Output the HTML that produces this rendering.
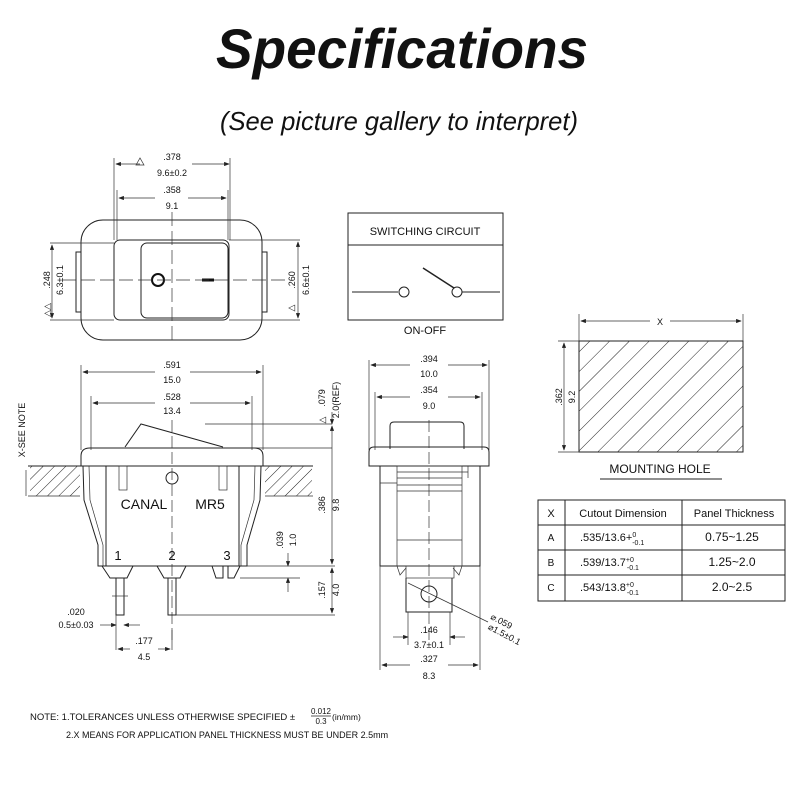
<!DOCTYPE html>
<html><head><meta charset="utf-8"><style>
html,body{margin:0;padding:0;background:#fff;}
svg{display:block;}
text{font-family:"Liberation Sans",sans-serif;fill:#111;}
.d{font-size:9px;}
.s{stroke:#222;stroke-width:1;fill:none;}
.t{stroke:#333;stroke-width:0.7;fill:none;}
</style></head><body>
<svg width="800" height="800" viewBox="0 0 800 800">
<defs>
<marker id="a" markerWidth="8" markerHeight="6" refX="7" refY="3" orient="auto-start-reverse"><path d="M0,0 L8,3 L0,6 z" fill="#222"/></marker>
<pattern id="h" width="14" height="14" patternUnits="userSpaceOnUse" patternTransform="rotate(45)"><line x1="0" y1="0" x2="0" y2="14" stroke="#222" stroke-width="1"/></pattern>
<pattern id="h2" width="8" height="8" patternUnits="userSpaceOnUse" patternTransform="rotate(45)"><line x1="0" y1="0" x2="0" y2="8" stroke="#222" stroke-width="1"/></pattern>
</defs>
<text x="402" y="68" text-anchor="middle" font-size="56" font-weight="bold" font-style="italic" textLength="372" lengthAdjust="spacingAndGlyphs">Specifications</text>
<text x="399" y="130" text-anchor="middle" font-size="26" font-style="italic" textLength="358" lengthAdjust="spacingAndGlyphs">(See picture gallery to interpret)</text>

<!-- Top view -->
<g>
<rect x="81" y="220" width="181" height="120" rx="22" class="s"/>
<rect x="114" y="240" width="115" height="80" rx="6" class="s"/>
<rect x="141" y="243" width="87" height="75" rx="6" class="s"/>
<rect x="76" y="252" width="5" height="60" class="s"/>
<rect x="262" y="252" width="5" height="60" class="s"/>
<circle cx="158" cy="280" r="6" stroke="#111" stroke-width="2" fill="none"/>
<line x1="202" y1="280" x2="214" y2="280" stroke="#111" stroke-width="3"/>
<line x1="172" y1="212" x2="172" y2="345" class="t" stroke-dasharray="14 5"/>
<line x1="62" y1="280" x2="285" y2="280" class="t" stroke-dasharray="14 5"/>
<line x1="114" y1="158" x2="114" y2="240" class="t"/><line x1="230" y1="158" x2="230" y2="240" class="t"/>
<line x1="117" y1="190" x2="117" y2="240" class="t"/><line x1="228" y1="190" x2="228" y2="240" class="t"/>
<line x1="116" y1="164" x2="140" y2="164" class="t" marker-start="url(#a)"/><line x1="192" y1="164" x2="229" y2="164" class="t" marker-end="url(#a)"/>
<line x1="119" y1="198" x2="155" y2="198" class="t" marker-start="url(#a)"/><line x1="188" y1="198" x2="226" y2="198" class="t" marker-end="url(#a)"/>
<path d="M136,165 L140,158 L144,165 Z" class="t"/>
<text x="172" y="160" class="d" text-anchor="middle">.378</text>
<text x="172" y="176" class="d" text-anchor="middle">9.6±0.2</text>
<text x="172" y="193" class="d" text-anchor="middle">.358</text>
<text x="172" y="209" class="d" text-anchor="middle">9.1</text>
<line x1="50" y1="243" x2="114" y2="243" class="t"/><line x1="50" y1="320" x2="114" y2="320" class="t"/>
<line x1="52" y1="245" x2="52" y2="318" class="t" marker-start="url(#a)" marker-end="url(#a)"/>
<text transform="translate(50,280) rotate(-90)" class="d" text-anchor="middle">.248</text>
<text transform="translate(63,280) rotate(-90)" class="d" text-anchor="middle">6.3±0.1</text>
<text transform="translate(50,310) rotate(-90)" class="d" text-anchor="middle">△△</text>
<line x1="229" y1="240" x2="300" y2="240" class="t"/><line x1="229" y1="320" x2="300" y2="320" class="t"/>
<line x1="298" y1="242" x2="298" y2="318" class="t" marker-start="url(#a)" marker-end="url(#a)"/>
<text transform="translate(295,280) rotate(-90)" class="d" text-anchor="middle">.260</text>
<text transform="translate(309,280) rotate(-90)" class="d" text-anchor="middle">6.6±0.1</text>
<text transform="translate(294,308) rotate(-90)" class="d" text-anchor="middle">△</text>
</g>

<!-- Switching circuit -->
<rect x="348" y="213" width="155" height="107" class="s"/>
<line x1="348" y1="245" x2="503" y2="245" class="s"/>
<text x="425" y="235" text-anchor="middle" font-size="11">SWITCHING  CIRCUIT</text>
<line x1="352" y1="292" x2="398" y2="292" class="s"/>
<circle cx="404" cy="292" r="5" class="s"/>
<circle cx="457" cy="292" r="5" class="s"/>
<line x1="462" y1="292" x2="500" y2="292" class="s"/>
<line x1="423" y1="268" x2="454" y2="288" stroke="#222" stroke-width="1.5"/>
<text x="425" y="334" text-anchor="middle" font-size="11">ON-OFF</text>

<!-- Side view -->
<g>
<line x1="81" y1="365" x2="81" y2="450" class="t"/><line x1="263" y1="365" x2="263" y2="450" class="t"/>
<line x1="91" y1="396" x2="91" y2="450" class="t"/><line x1="252" y1="396" x2="252" y2="450" class="t"/>
<line x1="83" y1="372" x2="155" y2="372" class="t" marker-start="url(#a)"/><line x1="190" y1="372" x2="261" y2="372" class="t" marker-end="url(#a)"/>
<line x1="93" y1="403" x2="155" y2="403" class="t" marker-start="url(#a)"/><line x1="190" y1="403" x2="250" y2="403" class="t" marker-end="url(#a)"/>
<text x="172" y="368" class="d" text-anchor="middle">.591</text>
<text x="172" y="383" class="d" text-anchor="middle">15.0</text>
<text x="172" y="400" class="d" text-anchor="middle">.528</text>
<text x="172" y="414" class="d" text-anchor="middle">13.4</text>
<path d="M125,447 L141,424 L223,447" class="s"/>
<line x1="205" y1="424" x2="332" y2="424" class="t"/>
<line x1="223" y1="448" x2="332" y2="448" class="t"/>
<path d="M81,466 L81,456 Q81,448 90,448 L254,448 Q263,448 263,456 L263,466 Z" class="s"/>
<rect x="30" y="466" width="50" height="30" fill="url(#h2)"/>
<rect x="265" y="466" width="47" height="30" fill="url(#h2)"/>
<line x1="28" y1="466" x2="313" y2="466" class="s"/>
<line x1="28" y1="496" x2="80" y2="496" class="t"/><line x1="265" y1="496" x2="313" y2="496" class="t"/>
<line x1="26" y1="470" x2="26" y2="496" class="t"/>
<text transform="translate(25,430) rotate(-90)" class="d" text-anchor="middle">X-SEE NOTE</text>
<line x1="106" y1="466" x2="106" y2="566" class="s"/>
<line x1="239" y1="466" x2="239" y2="566" class="s"/>
<path d="M83,466 L84,500 L98,545 L98,566 L106,566" class="s"/>
<path d="M89,466 L90,500 L103,545 L103,566" class="t"/>
<path d="M261,466 L260,500 L247,545 L247,566 L239,566" class="s"/>
<path d="M255,466 L254,500 L241,545 L241,566" class="t"/>
<line x1="98" y1="566" x2="247" y2="566" class="s"/>
<rect x="119" y="466" width="8" height="24" class="t"/><rect x="219" y="466" width="8" height="24" class="t"/>
<circle cx="172" cy="478" r="6" class="s"/>
<line x1="172" y1="420" x2="172" y2="640" class="t" stroke-dasharray="12 4"/>
<text x="144" y="509" text-anchor="middle" font-size="14">CANAL</text>
<text x="210" y="509" text-anchor="middle" font-size="14">MR5</text>
<text x="118" y="560" text-anchor="middle" font-size="13">1</text>
<text x="172" y="560" text-anchor="middle" font-size="13">2</text>
<text x="227" y="560" text-anchor="middle" font-size="13">3</text>
<path d="M102,566 L110,578 L127,578 L133,566" class="s"/>
<path d="M157,566 L164,578 L180,578 L186,566" class="s"/>
<path d="M212,566 L216,578 L223,578 L223,566 M228,566 L228,578 L234,578 L240,566" class="s"/>
<rect x="116" y="578" width="8" height="37" class="s"/>
<rect x="168" y="578" width="8" height="37" class="s"/>
<line x1="112" y1="596" x2="128" y2="596" class="t"/>
<line x1="247" y1="566" x2="335" y2="566" class="t"/>
<line x1="240" y1="578" x2="300" y2="578" class="t"/>
<line x1="176" y1="615" x2="335" y2="615" class="t"/>
<line x1="288" y1="553" x2="288" y2="566" class="t" marker-end="url(#a)"/>
<line x1="288" y1="592" x2="288" y2="578" class="t" marker-end="url(#a)"/>
<text transform="translate(283,540) rotate(-90)" class="d" text-anchor="middle">.039</text>
<text transform="translate(296,540) rotate(-90)" class="d" text-anchor="middle">1.0</text>
<line x1="332" y1="426" x2="332" y2="564" class="t" marker-start="url(#a)" marker-end="url(#a)"/>
<line x1="332" y1="568" x2="332" y2="613" class="t" marker-start="url(#a)" marker-end="url(#a)"/>
<line x1="332" y1="412" x2="332" y2="424" class="t" marker-end="url(#a)"/>
<text transform="translate(325,505) rotate(-90)" class="d" text-anchor="middle">.386</text>
<text transform="translate(339,505) rotate(-90)" class="d" text-anchor="middle">9.8</text>
<text transform="translate(325,590) rotate(-90)" class="d" text-anchor="middle">.157</text>
<text transform="translate(339,590) rotate(-90)" class="d" text-anchor="middle">4.0</text>
<text transform="translate(325,398) rotate(-90)" class="d" text-anchor="middle">.079</text>
<text transform="translate(339,400) rotate(-90)" class="d" text-anchor="middle">2.0(REF)</text>
<text transform="translate(325,420) rotate(-90)" class="d" text-anchor="middle">△</text>
<line x1="116" y1="615" x2="116" y2="650" class="t"/><line x1="172" y1="630" x2="172" y2="650" class="t"/>
<line x1="100" y1="625" x2="116" y2="625" class="t" marker-end="url(#a)"/>
<line x1="140" y1="625" x2="124" y2="625" class="t" marker-end="url(#a)"/>
<text x="76" y="615" class="d" text-anchor="middle">.020</text>
<text x="76" y="628" class="d" text-anchor="middle">0.5±0.03</text>
<line x1="118" y1="649" x2="130" y2="649" class="t" marker-start="url(#a)"/>
<line x1="158" y1="649" x2="170" y2="649" class="t" marker-end="url(#a)"/>
<text x="144" y="644" class="d" text-anchor="middle">.177</text>
<text x="144" y="660" class="d" text-anchor="middle">4.5</text>
</g>

<!-- Front view -->
<g>
<line x1="369" y1="360" x2="369" y2="450" class="t"/><line x1="489" y1="360" x2="489" y2="450" class="t"/>
<line x1="375" y1="392" x2="375" y2="450" class="t"/><line x1="482" y1="392" x2="482" y2="450" class="t"/>
<line x1="371" y1="365" x2="410" y2="365" class="t" marker-start="url(#a)"/><line x1="448" y1="365" x2="487" y2="365" class="t" marker-end="url(#a)"/>
<line x1="377" y1="397" x2="410" y2="397" class="t" marker-start="url(#a)"/><line x1="448" y1="397" x2="480" y2="397" class="t" marker-end="url(#a)"/>
<text x="429" y="362" class="d" text-anchor="middle">.394</text>
<text x="429" y="377" class="d" text-anchor="middle">10.0</text>
<text x="429" y="393" class="d" text-anchor="middle">.354</text>
<text x="429" y="409" class="d" text-anchor="middle">9.0</text>
<path d="M390,449 L390,426 Q390,422 394,422 L460,422 Q464,422 464,426 L464,449" class="s"/>
<path d="M369,466 L369,452 Q369,447 374,447 L484,447 Q489,447 489,452 L489,466 Z" class="s"/>
<rect x="380" y="466" width="100" height="100" class="s"/>
<rect x="397" y="466" width="65" height="100" class="t"/>
<line x1="397" y1="472" x2="468" y2="472" class="t"/><line x1="468" y1="466" x2="468" y2="478" class="t"/>
<line x1="397" y1="478" x2="462" y2="478" class="t"/><line x1="397" y1="485" x2="462" y2="485" class="t"/>
<line x1="397" y1="491" x2="462" y2="491" class="t"/><line x1="397" y1="540" x2="462" y2="540" class="t"/>
<line x1="380" y1="483" x2="397" y2="483" class="t"/>
<line x1="429" y1="420" x2="429" y2="640" class="t" stroke-dasharray="12 4"/>
<path d="M397,566 L400,575 L406,568 M462,566 L459,575 L453,568" class="t"/>
<rect x="406" y="566" width="48" height="12" class="t"/>
<path d="M406,578 L406,612 L452,612 L452,578" class="s"/>
<circle cx="429" cy="594" r="8" class="s"/>
<line x1="408" y1="583" x2="488" y2="622" class="t"/>
<text transform="translate(500,624) rotate(28)" class="d" text-anchor="middle">⌀.059</text>
<text transform="translate(503,637) rotate(28)" class="d" text-anchor="middle">⌀1.5±0.1</text>
<line x1="380" y1="566" x2="380" y2="670" class="t"/><line x1="480" y1="566" x2="480" y2="670" class="t"/>
<line x1="408" y1="612" x2="408" y2="645" class="t"/><line x1="450" y1="612" x2="450" y2="645" class="t"/>
<line x1="393" y1="637" x2="408" y2="637" class="t" marker-end="url(#a)"/>
<line x1="465" y1="637" x2="450" y2="637" class="t" marker-end="url(#a)"/>
<text x="429" y="633" class="d" text-anchor="middle">.146</text>
<text x="429" y="648" class="d" text-anchor="middle">3.7±0.1</text>
<line x1="382" y1="665" x2="410" y2="665" class="t" marker-start="url(#a)"/><line x1="448" y1="665" x2="478" y2="665" class="t" marker-end="url(#a)"/>
<text x="429" y="662" class="d" text-anchor="middle">.327</text>
<text x="429" y="679" class="d" text-anchor="middle">8.3</text>
</g>

<!-- Mounting hole -->
<rect x="579" y="341" width="164" height="111" fill="url(#h)" stroke="#222" stroke-width="1"/>
<line x1="579" y1="314" x2="579" y2="341" class="t"/><line x1="743" y1="314" x2="743" y2="341" class="t"/>
<line x1="581" y1="321" x2="650" y2="321" class="t" marker-start="url(#a)"/><line x1="670" y1="321" x2="741" y2="321" class="t" marker-end="url(#a)"/>
<text x="660" y="325" class="d" text-anchor="middle">X</text>
<line x1="558" y1="341" x2="579" y2="341" class="t"/><line x1="558" y1="452" x2="579" y2="452" class="t"/>
<line x1="564" y1="343" x2="564" y2="450" class="t" marker-start="url(#a)" marker-end="url(#a)"/>
<text transform="translate(562,397) rotate(-90)" class="d" text-anchor="middle">.362</text>
<text transform="translate(575,397) rotate(-90)" class="d" text-anchor="middle">9.2</text>
<text x="660" y="473" text-anchor="middle" font-size="12">MOUNTING  HOLE</text>
<line x1="600" y1="479" x2="722" y2="479" class="s"/>

<!-- Table -->
<g font-size="11">
<rect x="538" y="500" width="247" height="101" class="s"/>
<line x1="538" y1="525" x2="785" y2="525" class="s"/>
<line x1="538" y1="550" x2="785" y2="550" class="s"/>
<line x1="538" y1="575" x2="785" y2="575" class="s"/>
<line x1="565" y1="500" x2="565" y2="601" class="s"/>
<line x1="682" y1="500" x2="682" y2="601" class="s"/>
<text x="551" y="517" text-anchor="middle">X</text>
<text x="623" y="517" text-anchor="middle">Cutout Dimension</text>
<text x="734" y="517" text-anchor="middle">Panel  Thickness</text>
<text x="551" y="541" text-anchor="middle" font-size="10">A</text>
<text x="551" y="566" text-anchor="middle" font-size="10">B</text>
<text x="551" y="591" text-anchor="middle" font-size="10">C</text>
<text x="580" y="541">.535/13.6+<tspan font-size="7" dy="-4">0</tspan><tspan font-size="7" dx="-4" dy="8">-0.1</tspan></text>
<text x="580" y="566">.539/13.7<tspan font-size="7" dy="-4">+0</tspan><tspan font-size="7" dx="-7" dy="8">-0.1</tspan></text>
<text x="580" y="591">.543/13.8<tspan font-size="7" dy="-4">+0</tspan><tspan font-size="7" dx="-7" dy="8">-0.1</tspan></text>
<text x="732" y="541" text-anchor="middle" font-size="12">0.75~1.25</text>
<text x="732" y="566" text-anchor="middle" font-size="12">1.25~2.0</text>
<text x="732" y="591" text-anchor="middle" font-size="12">2.0~2.5</text>
</g>

<!-- Notes -->
<text x="30" y="720" font-size="9.5">NOTE: 1.TOLERANCES UNLESS OTHERWISE SPECIFIED ±</text>
<text x="321" y="714" font-size="8" text-anchor="middle">0.012</text>
<line x1="311" y1="716" x2="331" y2="716" stroke="#222" stroke-width="0.7"/>
<text x="321" y="724" font-size="8" text-anchor="middle">0.3</text>
<text x="332" y="720" font-size="8.5">(in/mm)</text>
<text x="66" y="738" font-size="9">2.X MEANS FOR APPLICATION PANEL THICKNESS MUST BE UNDER 2.5mm</text>
</svg>
</body></html>
